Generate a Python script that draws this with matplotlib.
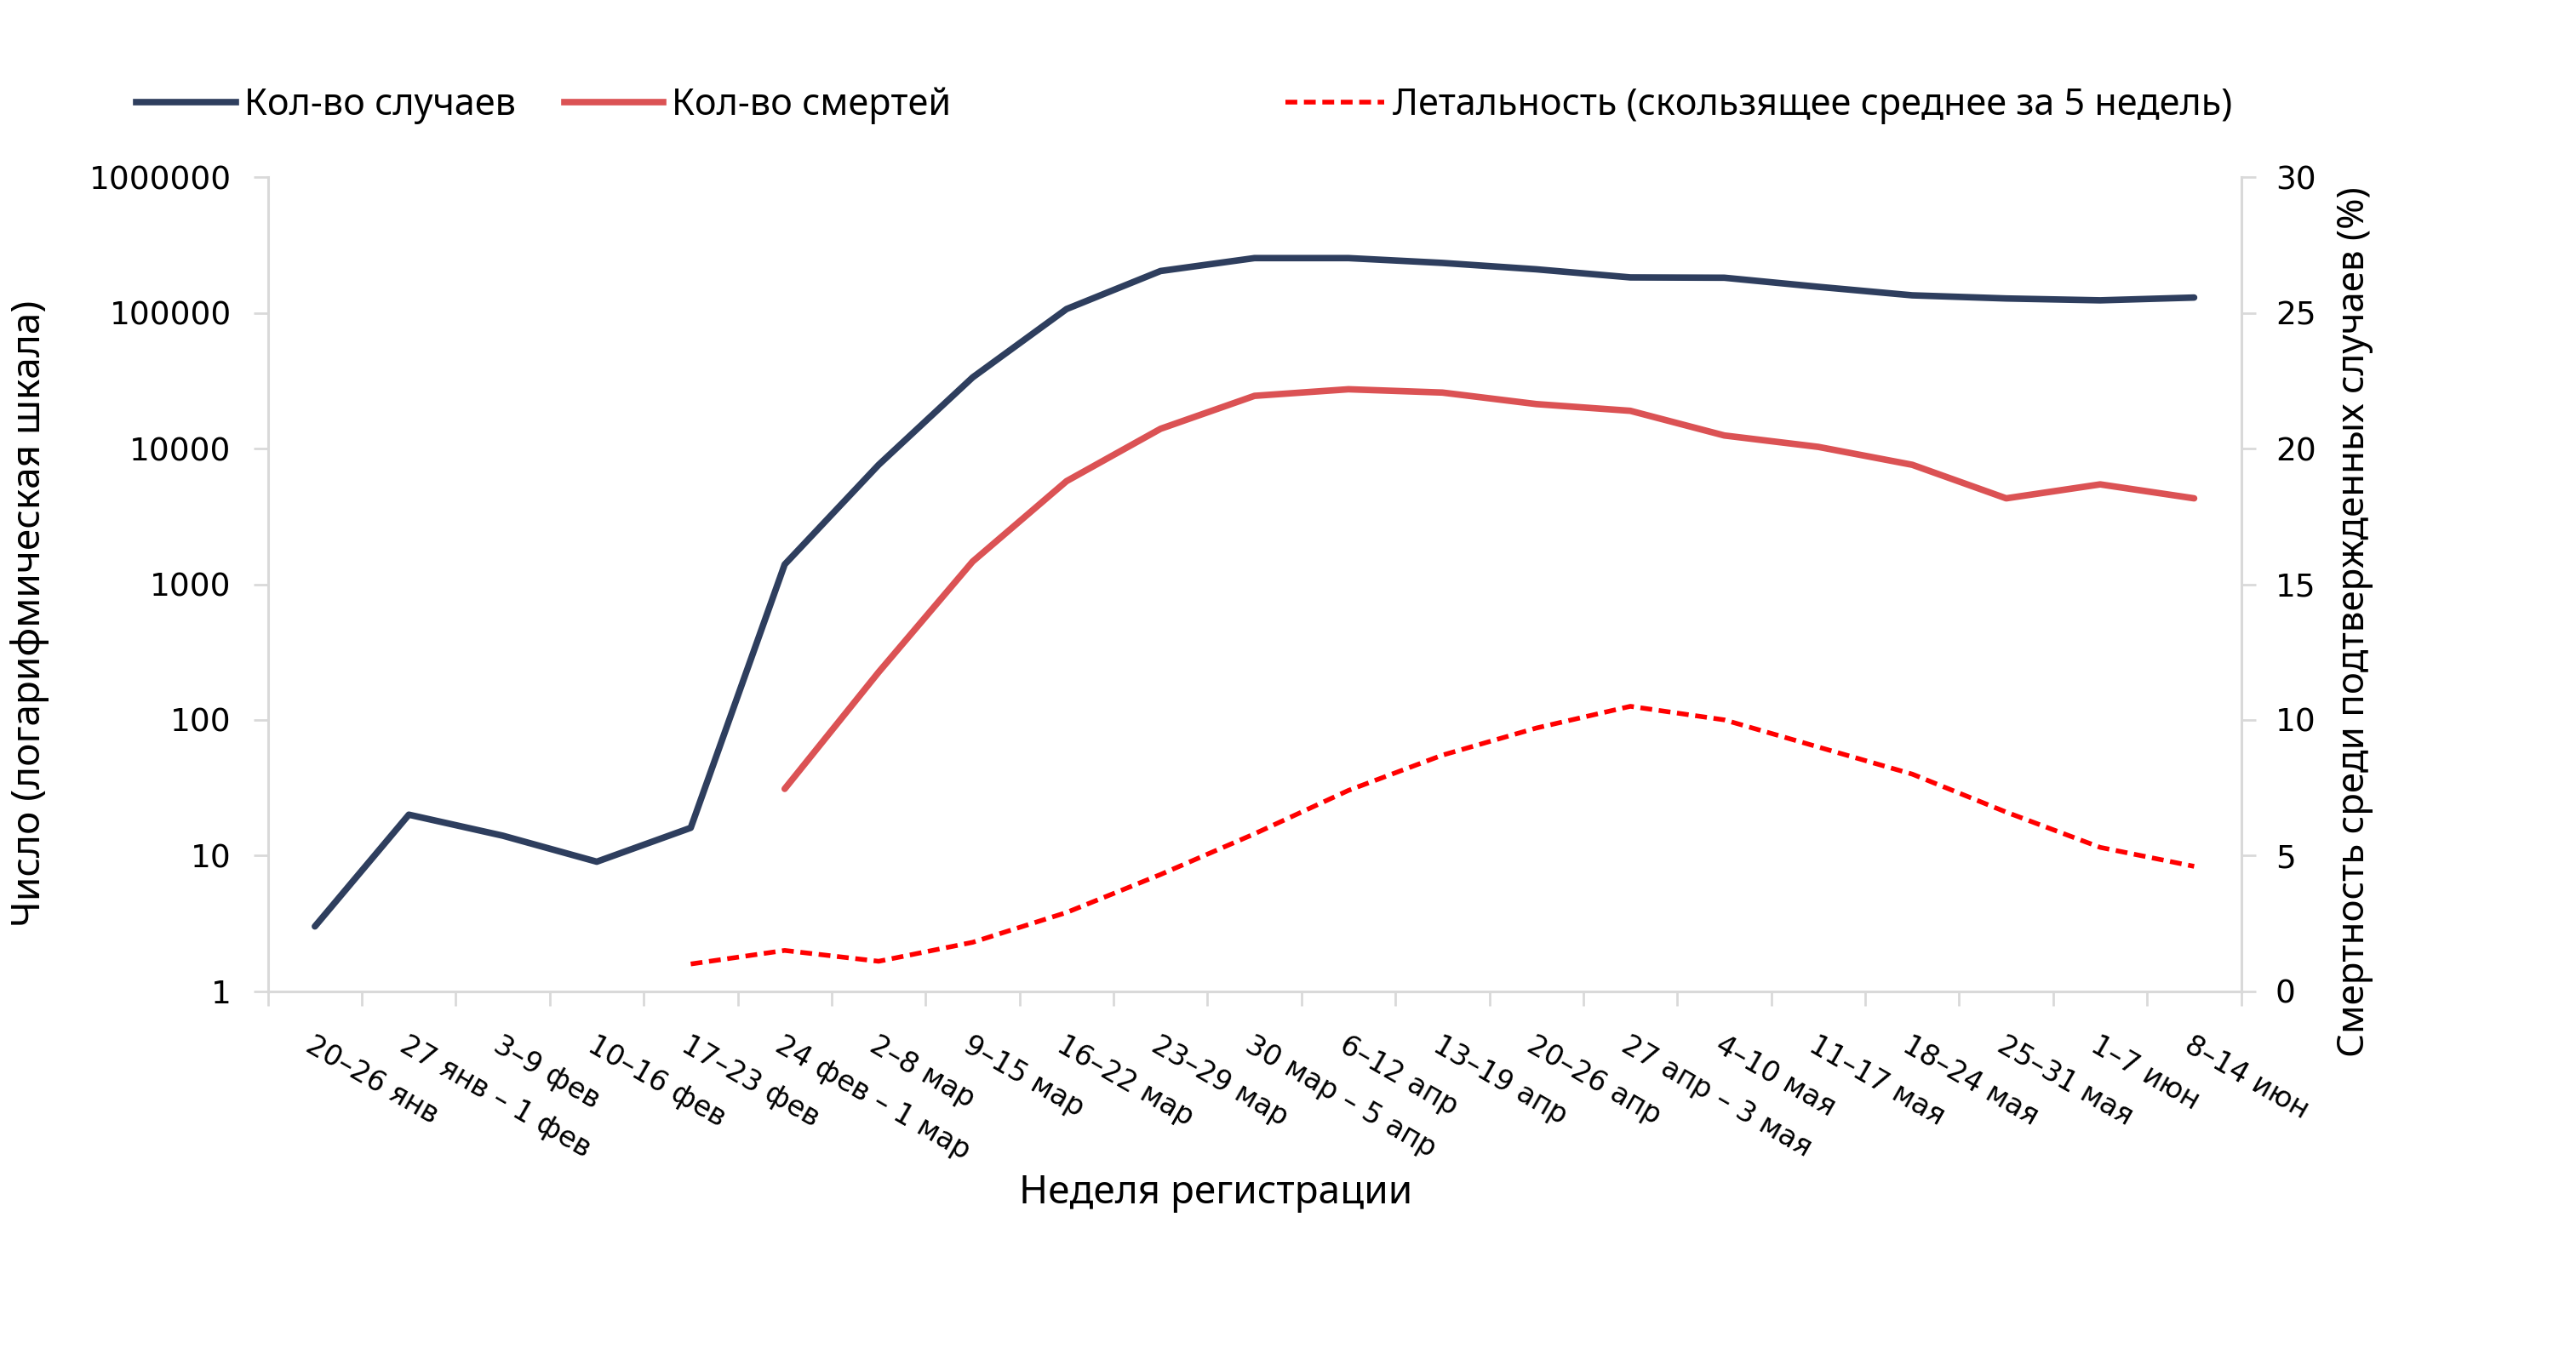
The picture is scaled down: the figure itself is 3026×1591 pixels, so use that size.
import numpy as np
import matplotlib
matplotlib.use("Agg")
import matplotlib.pyplot as plt
from matplotlib.lines import Line2D
from matplotlib.ticker import FixedLocator, FuncFormatter

plt.rcParams['font.family'] = ['Noto Sans', 'DejaVu Sans']

weeks = ["20–26 янв", "27 янв – 1 фев", "3–9 фев", "10–16 фев", "17–23 фев",
         "24 фев – 1 мар", "2–8 мар", "9–15 мар", "16–22 мар", "23–29 мар",
         "30 мар – 5 апр", "6–12 апр", "13–19 апр", "20–26 апр", "27 апр – 3 мая",
         "4–10 мая", "11–17 мая", "18–24 мая", "25–31 мая", "1–7 июн", "8–14 июн"]

cases = [3, 20, 14, 9, 16, 1400, 7600, 33500, 107000, 204000, 254000, 254000,
         234000, 210000, 183000, 182000, 156000, 135000, 128000, 124000, 130000]

deaths = [np.nan, np.nan, np.nan, np.nan, np.nan, 31, 225, 1470, 5760, 14000,
          24500, 27400, 25900, 21300, 19000, 12500, 10300, 7600, 4300, 5450, 4300]

lethality = [np.nan, np.nan, np.nan, np.nan, 1.0, 1.5, 1.1, 1.8, 2.9, 4.3, 5.8,
             7.4, 8.7, 9.7, 10.5, 10.0, 9.0, 8.0, 6.6, 5.3, 4.6]

c_cases = "#2E3E5E"
c_deaths = "#DB5254"
c_leth = "#FF0000"
axis_col = "#D9D9D9"
tick_font = 'DejaVu Sans'

fig = plt.figure(figsize=(30.26, 15.91), dpi=100)
ax = fig.add_axes([0.104, 0.268, 0.766, 0.601])
ax2 = ax.twinx()

x = np.arange(len(weeks))
ax.plot(x, cases, color=c_cases, lw=5.5, solid_joinstyle='round', solid_capstyle='round')
ax.plot(x, deaths, color=c_deaths, lw=5.5, solid_joinstyle='round', solid_capstyle='round')
ax2.plot(x, lethality, color=c_leth, lw=4, linestyle=(0, (2.5, 1.4)))

ax.set_yscale('log')
ax.set_ylim(1, 1e6)
ax.yaxis.set_major_locator(FixedLocator([1, 10, 100, 1000, 10000, 100000, 1000000]))
ax.yaxis.set_minor_locator(FixedLocator([]))
ax.yaxis.set_major_formatter(FuncFormatter(lambda v, p: f"{int(round(v))}"))
ax2.set_ylim(0, 30)
ax2.set_yticks(range(0, 31, 5))
ax.set_xlim(-0.5, len(weeks) - 0.5)

ax.set_xticks(x)
ax.set_xticklabels(weeks, rotation=-30, ha='left', rotation_mode='anchor',
                   fontsize=24, family=tick_font)
ax.set_xticks(np.arange(-0.5, len(weeks)), minor=True)
ax.tick_params(axis='x', which='major', length=0, pad=34)
ax.tick_params(axis='x', which='minor', length=12, width=2, color=axis_col)
ax.tick_params(axis='y', which='major', length=12, width=2, color=axis_col, labelsize=27, pad=19)
ax2.tick_params(axis='y', which='major', length=12, width=2, color=axis_col, labelsize=27, pad=17)
for lbl in ax.get_yticklabels() + ax2.get_yticklabels():
    lbl.set_family(tick_font)

for a in (ax, ax2):
    for s in a.spines.values():
        s.set_visible(False)
ax.spines['left'].set_visible(True)
ax.spines['bottom'].set_visible(True)
ax2.spines['right'].set_visible(True)
for s in (ax.spines['left'], ax.spines['bottom'], ax2.spines['right']):
    s.set_color(axis_col)
    s.set_linewidth(2.2)

fig.text(0.0115, 0.547, "Число (логарифмическая шкала)", rotation=90, va='center', ha='center', fontsize=33)
fig.text(0.914, 0.541, "Смертность среди подтвержденных случаев (%)", rotation=90, va='center', ha='center', fontsize=31.5)
fig.text(0.472, 0.119, "Неделя регистрации", ha='center', va='center', fontsize=33)

entries = [
    (Line2D([], [], color=c_cases, lw=5.5), "Кол-во случаев", 0.053),
    (Line2D([], [], color=c_deaths, lw=5.5), "Кол-во смертей", 0.219),
    (Line2D([], [], color=c_leth, lw=4, linestyle=(0, (2.5, 1.4))), "Летальность (скользящее среднее за 5 недель)", 0.499),
]
for h, t, xpos in entries:
    fig.legend([h], [t], loc='center left', bbox_to_anchor=(xpos, 0.922), frameon=False,
               fontsize=31, handlelength=2.7, handletextpad=0.23, borderpad=0, borderaxespad=0)

fig.savefig("out.png", dpi=100, facecolor="white")
